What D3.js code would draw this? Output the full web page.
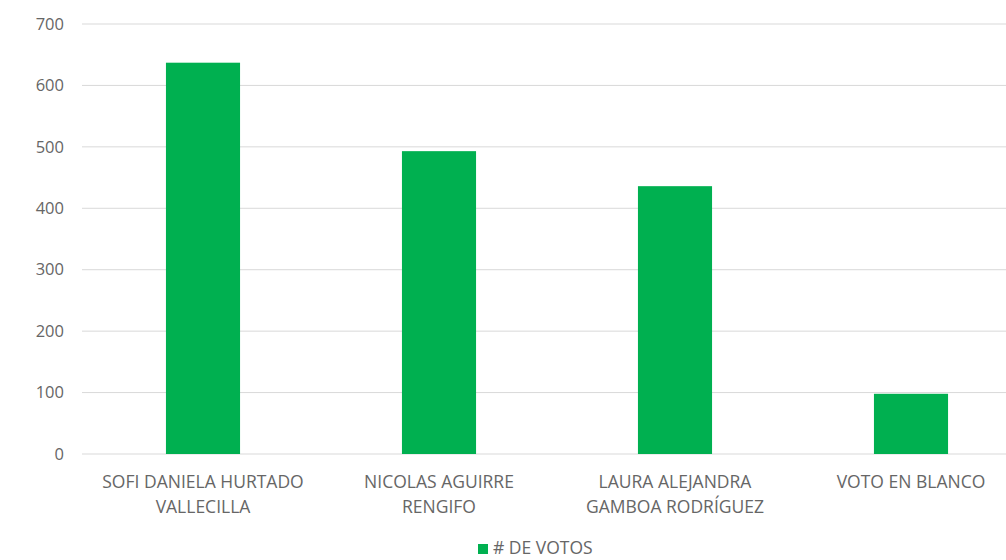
<!DOCTYPE html>
<html><head><meta charset="utf-8">
<script src="https://cdn.jsdelivr.net/npm/d3@7"></script>
<style>body{margin:0;background:#fff;overflow:hidden}text{font-family:"Open Sans","Liberation Sans",sans-serif}</style>
</head><body><svg id="c" width="1006" height="560"></svg>
<script>
const categories = [["SOFI DANIELA HURTADO","VALLECILLA"],["NICOLAS AGUIRRE","RENGIFO"],["LAURA ALEJANDRA","GAMBOA RODRÍGUEZ"],["VOTO EN BLANCO"]];
const votos = [637, 493, 436, 98];
const yTicks = [0,100,200,300,400,500,600,700];
const seriesName = "# DE VOTOS";

const svg = d3.select("#c");
const x = d3.scaleBand().domain(d3.range(categories.length)).range([85, 1029]).paddingInner(0.686).paddingOuter(0.343);
const y = d3.scaleLinear().domain([0,700]).range([454, 24]);
const txt = "#666666";

svg.append("g").selectAll("line").data(yTicks).join("line")
  .attr("x1", 82).attr("x2", 1006).attr("y1", d=>y(d)).attr("y2", d=>y(d))
  .attr("stroke", "#d9d9d9").attr("stroke-width", 1);

svg.append("g").selectAll("text").data(yTicks).join("text")
  .attr("x", 64).attr("y", d=>y(d)).attr("dy","0.35em").attr("text-anchor","end")
  .attr("fill",txt).attr("font-size",16.5).text(d=>d);

svg.append("g").selectAll("rect").data(votos).join("rect")
  .attr("x", (d,i)=>x(i)).attr("width", x.bandwidth())
  .attr("y", d=>y(d)).attr("height", d=>y(0)-y(d))
  .attr("fill","#00b050");

const lab = svg.append("g").selectAll("text").data(categories).join("text")
  .attr("x",(d,i)=>x(i)+x.bandwidth()/2).attr("y",488).attr("text-anchor","middle")
  .attr("fill",txt).attr("font-size",17.5);
lab.selectAll("tspan").data(d=>d).join("tspan")
  .attr("x",function(){return this.parentNode.getAttribute("x");})
  .attr("dy",(d,i)=>i===0?0:25).text(d=>d);

svg.append("rect").attr("x",478).attr("y",544).attr("width",10).attr("height",10).attr("fill","#00b050");
svg.append("text").attr("x",493).attr("y",554).attr("fill",txt).attr("font-size",17.5).text(seriesName);
</script></body></html>
